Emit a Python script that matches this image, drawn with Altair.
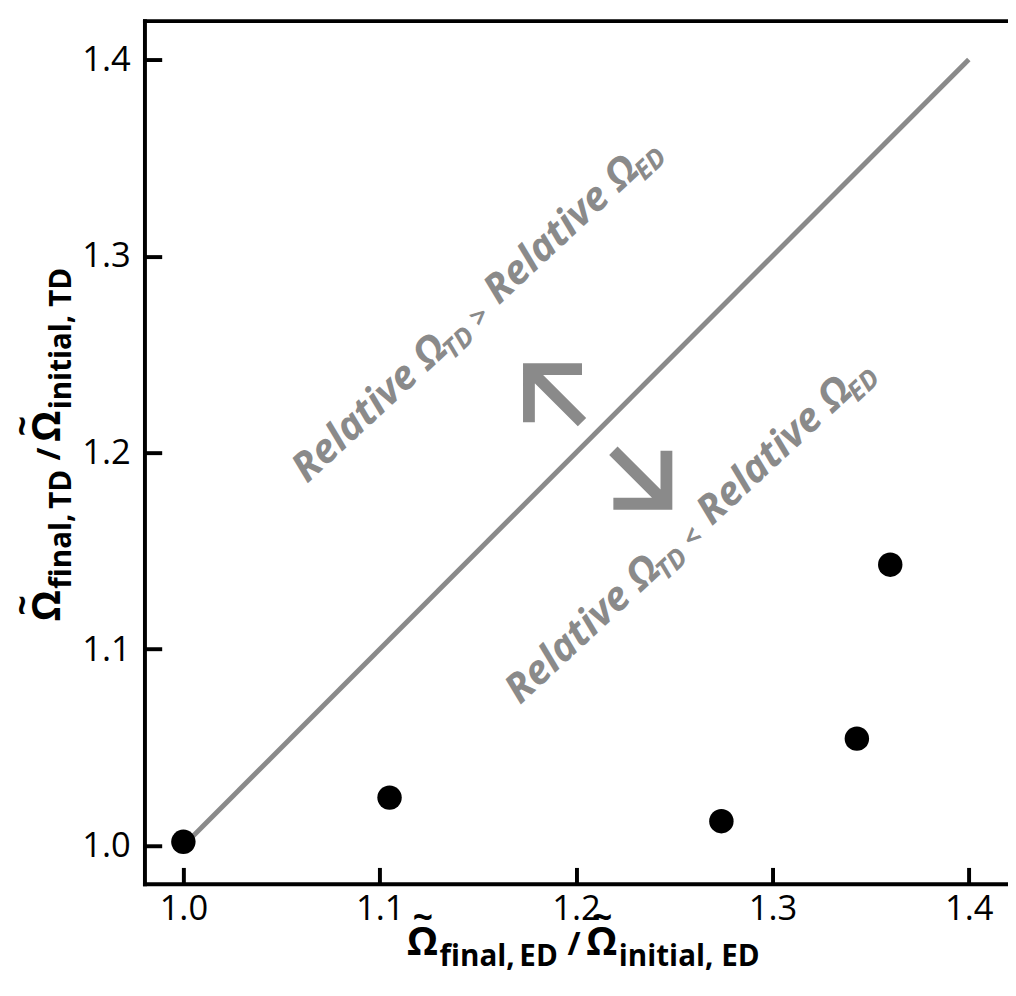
import altair as alt
import pandas as pd

# ---------------- data ----------------
x_ratio_ed = [1.000, 1.105, 1.274, 1.343, 1.360]
y_ratio_td = [1.002, 1.0245, 1.0125, 1.0545, 1.143]
identity_line = [1.0, 1.4]
tick_values = [1.0, 1.1, 1.2, 1.3, 1.4]

# annotation anchors (data coordinates)
upper_note_xy = [1.0630, 1.1840]
lower_note_xy = [1.1715, 1.0715]
arrow_up_xy = [1.1895, 1.229]
arrow_down_xy = [1.2325, 1.1875]

# ---------------- layout ----------------
# the plot box continues past the right edge of the picture, as in the reference
W, H = 876, 876
x_domain = [0.98043, 1.41997]
y_domain = [0.98045, 1.41955]
FONT = "Open Sans"
GRAY = "#8a8a8a"

pts = pd.DataFrame({"x": x_ratio_ed, "y": y_ratio_td})
line_df = pd.DataFrame({"x": identity_line, "y": identity_line})
one = pd.DataFrame({"k": [0]})

xs = alt.Scale(domain=x_domain, nice=False, zero=False)
ys = alt.Scale(domain=y_domain, nice=False, zero=False)

common_axis = dict(values=tick_values, format=".1f", title=None, grid=False, domain=False,
                   offset=-17, tickSize=17, tickWidth=4, tickColor="black",
                   labelFont=FONT, labelFontSize=35, labelColor="black", labelFlush=False)
x_axis = alt.Axis(labelPadding=8, **common_axis)
y_axis = alt.Axis(labelPadding=15, **common_axis)

line = alt.Chart(line_df).mark_line(color=GRAY, strokeWidth=5).encode(
    x=alt.X("x:Q", scale=xs, axis=x_axis),
    y=alt.Y("y:Q", scale=ys, axis=y_axis),
)
points = alt.Chart(pts).mark_circle(color="black", size=615, opacity=1).encode(
    x="x:Q", y="y:Q"
)

# frame (top, left, bottom): full-span rules at the domain edges
frame = [
    alt.Chart(one).mark_rule(color="black", strokeWidth=4, strokeCap="square").encode(
        y=alt.datum(y_domain[1])),
    alt.Chart(one).mark_rule(color="black", strokeWidth=4, strokeCap="square").encode(
        x=alt.datum(x_domain[0])),
    alt.Chart(one).mark_rule(color="black", strokeWidth=4, strokeCap="square").encode(
        y=alt.datum(y_domain[0])),
]


def pixel_text(px, py, angle, pieces):
    out = []
    for text, size, dx, dy, align in pieces:
        out.append(alt.Chart(one).mark_text(
            text=text, font=FONT, fontSize=size, fontWeight="bold", angle=angle,
            dx=dx, dy=dy, align=align, baseline="alphabetic", color="black"
        ).encode(x=alt.value(px), y=alt.value(py)))
    return out


def title_pieces(sub):
    return [
        ("Ω", 40, 0, 0, "left"),
        ("~", 36, 16, -26, "center"),
        ("final,", 30, 33, 11, "left"),
        (sub, 30, 114, 11, "left"),
        ("/", 32, 163, 0, "left"),
        ("Ω", 40, 182, 0, "left"),
        ("~", 36, 198, -26, "center"),
        ("initial,", 30, 215, 11, "left"),
        (sub, 30, 319, 11, "left"),
    ]


x_title = pixel_text(266, 948, 0, title_pieces("ED"))
y_title = pixel_text(-86, 609, 270, title_pieces("TD"))


def note(anchor, sign):
    df = pd.DataFrame({"x": [anchor[0]], "y": [anchor[1]]})
    pieces = [
        ("Relative Ω", 41, 0, 0),
        ("TD", 27, 194, 9),
        (sign, 28, 236, 4),
        ("Relative Ω", 41, 266, 0),
        ("ED", 27, 460, 9),
    ]
    out = []
    for text, size, dx, dy in pieces:
        out.append(alt.Chart(df).mark_text(
            text=text, font=FONT, fontSize=size, fontWeight="bold", fontStyle="italic",
            angle=317, dx=dx, dy=dy, align="left", baseline="alphabetic", color=GRAY
        ).encode(x="x:Q", y="y:Q"))
    return out


notes = note(upper_note_xy, ">") + note(lower_note_xy, "<")


def arrow(anchor, path):
    df = pd.DataFrame({"x": [anchor[0]], "y": [anchor[1]]})
    return alt.Chart(df).mark_point(
        shape=path, filled=False, stroke=GRAY, strokeWidth=12, size=2900, opacity=1,
        strokeCap="butt", strokeJoin="miter"
    ).encode(x="x:Q", y="y:Q")


arrows = [
    arrow(arrow_up_xy, "M 1 -1 L -1 -1 L -1 1 M -1 -1 L 1 1"),
    arrow(arrow_down_xy, "M -1 1 L 1 1 L 1 -1 M 1 1 L -1 -1"),
]

chart = alt.layer(line, *arrows, *notes, points, *frame, *x_title, *y_title).properties(
    width=W, height=H,
    background="white",
    autosize=alt.AutoSizeParams(type="none"),
    padding={"left": 139, "top": 6, "right": 0, "bottom": 96},
).configure_view(strokeWidth=0, stroke="transparent")

chart.save("out.html", embed_options={"renderer": "svg", "actions": False})
